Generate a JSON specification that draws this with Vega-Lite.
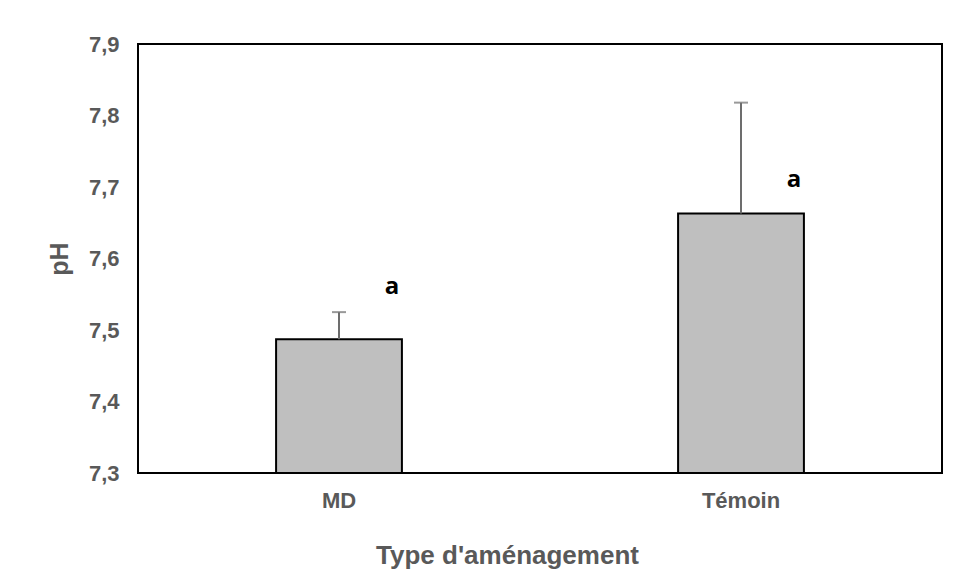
{
  "$schema": "https://vega.github.io/schema/vega-lite/v6.json",
  "autosize": {"type": "none"},
  "width": 804,
  "height": 429,
  "padding": {"left": 138, "top": 44, "right": 15, "bottom": 109},
  "background": "white",
  "config": {
    "view": {"stroke": "black", "strokeWidth": 2},
    "font": "Liberation Sans"
  },
  "data": {
    "values": [
      {"type": "MD", "ph": 7.487, "upper": 7.525, "letter": "a", "letter_y": 7.56},
      {"type": "Témoin", "ph": 7.663, "upper": 7.818, "letter": "a", "letter_y": 7.71}
    ]
  },
  "encoding": {
    "x": {
      "field": "type",
      "type": "nominal",
      "sort": null,
      "scale": {"paddingInner": 0.687, "paddingOuter": 0.3435},
      "axis": {
        "title": "Type d'aménagement",
        "titleX": 369,
        "labelAngle": 0,
        "labelFontSize": 22,
        "labelFontWeight": "bold",
        "labelColor": "#595959",
        "labelPadding": 17,
        "titleFontSize": 26,
        "titleFontWeight": "bold",
        "titleColor": "#595959",
        "titlePadding": 31,
        "ticks": false,
        "domain": false
      }
    }
  },
  "layer": [
    {
      "mark": {"type": "bar", "fill": "#bfbfbf", "stroke": "black", "strokeWidth": 2},
      "encoding": {
        "y": {
          "field": "ph",
          "type": "quantitative",
          "scale": {"domain": [7.3, 7.9], "zero": false, "nice": false},
          "axis": {
            "title": "pH",
            "values": [7.3, 7.4, 7.5, 7.6, 7.7, 7.8, 7.9],
            "labelExpr": "replace(format(datum.value, '.1f'), '.', ',')",
            "labelFontSize": 22,
            "labelFontWeight": "bold",
            "labelColor": "#595959",
            "labelPadding": 19,
            "titleFontSize": 25,
            "titleFontWeight": "bold",
            "titleColor": "#595959",
            "titlePadding": 16,
            "grid": false,
            "ticks": false,
            "domain": false
          }
        },
        "y2": {"datum": 7.3}
      }
    },
    {
      "mark": {"type": "rule", "color": "#6d6d6d", "strokeWidth": 2},
      "encoding": {
        "y": {"field": "ph", "type": "quantitative"},
        "y2": {"field": "upper"}
      }
    },
    {
      "mark": {"type": "tick", "color": "#6d6d6d", "size": 14, "thickness": 2},
      "encoding": {
        "y": {"field": "upper", "type": "quantitative"}
      }
    },
    {
      "mark": {"type": "text", "font": "Open Sans", "fontWeight": "bold", "fontSize": 24, "color": "black", "dx": 53, "baseline": "middle"},
      "encoding": {
        "y": {"field": "letter_y", "type": "quantitative"},
        "text": {"field": "letter"}
      }
    }
  ]
}
